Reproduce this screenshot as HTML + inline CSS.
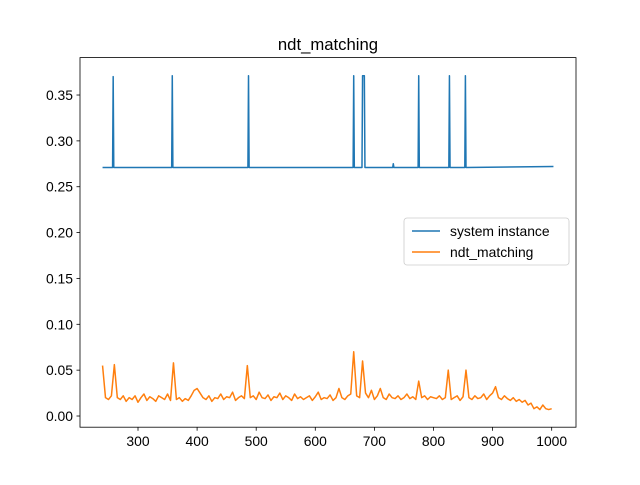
<!DOCTYPE html>
<html><head><meta charset="utf-8"><style>
body{margin:0;background:#fff;}
svg text{font-family:"Liberation Sans","DejaVu Sans",sans-serif;}
</style></head><body>
<svg id="chart" width="640" height="480" viewBox="0 0 640 480" xmlns="http://www.w3.org/2000/svg">
<rect width="640" height="480" fill="#fff"/>
<text x="328" y="50" font-size="16.7" text-anchor="middle">ndt_matching</text>
<g id="ticks"></g>
<g id="series"></g>
<rect x="80" y="57.6" width="496" height="369.6" fill="none" stroke="#000" stroke-width="0.8"/>
<g>
<rect x="404" y="218" width="165" height="47" rx="3" fill="#fff" fill-opacity="0.8" stroke="#ccc" stroke-width="0.8"/>
<line x1="412" y1="231" x2="440" y2="231" stroke="#1f77b4" stroke-width="1.5"/>
<text x="450" y="236" font-size="13.9">system instance</text>
<line x1="412" y1="252" x2="440" y2="252" stroke="#ff7f0e" stroke-width="1.5"/>
<text x="450" y="257" font-size="13.9">ndt_matching</text>
</g>
</svg>
<script>
const xStart = 240, xStep = 5;
const orange = [
.055,.02,.018,.022,.056,.02,.018,.022,.016,.02,
.018,.022,.015,.02,.024,.017,.021,.019,.016,.022,
.02,.018,.024,.017,.058,.018,.02,.016,.019,.017,
.022,.028,.03,.025,.02,.018,.022,.016,.02,.019,
.024,.018,.021,.02,.026,.017,.02,.022,.019,.055,
.02,.022,.018,.026,.02,.019,.023,.017,.021,.02,
.025,.018,.022,.02,.017,.024,.019,.021,.018,.02,
.022,.017,.021,.026,.018,.02,.019,.023,.017,.02,
.03,.02,.018,.022,.024,.07,.022,.02,.06,.025,
.02,.028,.018,.022,.03,.02,.018,.024,.02,.019,
.022,.018,.02,.024,.019,.021,.018,.038,.02,.022,
.018,.021,.02,.019,.022,.018,.02,.05,.018,.02,
.022,.017,.021,.05,.02,.018,.022,.019,.02,.024,
.018,.022,.025,.032,.02,.018,.022,.019,.017,.02,
.016,.018,.015,.017,.012,.014,.008,.01,.007,.012,
.008,.007,.008];
const blueX = [240,257,258,259,357,358,359,486,487,488,664,665,666,679,680,683,684,731,732,733,774,775,776,826,827,828,853,854,855,1003];
const blueY = [.271,.271,.37,.271,.271,.371,.271,.271,.371,.271,.271,.371,.271,.271,.371,.371,.271,.271,.275,.271,.271,.371,.271,.271,.371,.271,.271,.371,.271,.272];
const xTicks = [300,400,500,600,700,800,900,1000];
const yTicks = [0.00,0.05,0.10,0.15,0.20,0.25,0.30,0.35];
const NS = "http://www.w3.org/2000/svg";
const X = v => 80 + (v - 201.85) / (1041.15 - 201.85) * 496;
const Y = v => 427.2 - (v + 0.0122) / (0.3908 + 0.0122) * 369.6;
const tg = document.getElementById('ticks');
function mk(tag, attrs, parent){const e=document.createElementNS(NS,tag);for(const k in attrs)e.setAttribute(k,attrs[k]);parent.appendChild(e);return e;}
xTicks.forEach(t=>{
  const l=mk('line',{x1:X(t),x2:X(t),y1:427.2,y2:430.7,stroke:'#000','stroke-width':0.8},tg);
  
  
  const tx=mk('text',{x:X(t),y:446,'font-size':13.9,'text-anchor':'middle'},tg);
  tx.textContent=t;
  
  
});
yTicks.forEach(t=>{
  const l=mk('line',{x1:76.5,x2:80,y1:Y(t),y2:Y(t),stroke:'#000','stroke-width':0.8},tg);
  
  
  const tx=mk('text',{x:73,y:Y(t)+5,'font-size':13.9,'text-anchor':'end'},tg);
  tx.textContent=t.toFixed(2);
  
  
});
const sg=document.getElementById('series');
function path(xs,ys,color,name){
  const d=ys.map((v,i)=>(i?'L':'M')+X(xs[i]).toFixed(2)+','+Y(v).toFixed(2)).join('');
  const p=mk('path',{d:d,fill:'none',stroke:color,'stroke-width':1.5,'stroke-linejoin':'round'},sg);
  
  
}
path(blueX,blueY,'#1f77b4','system-instance-line');
path(orange.map((v,i)=>xStart+i*xStep),orange,'#ff7f0e','ndt-matching-line');
</script>
</body></html>
